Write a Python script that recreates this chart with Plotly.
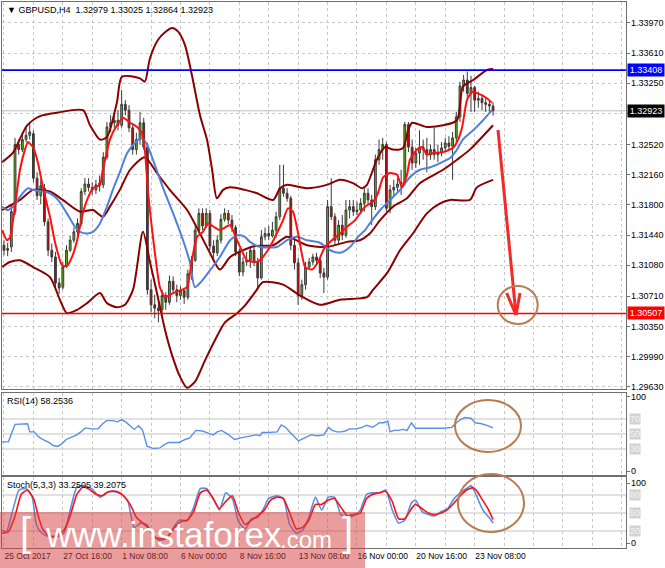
import plotly.graph_objects as go

# ---------------- data ----------------
symbol = "GBPUSD,H4"
bars = list(range(134))  # H4 bars, bar 0 = 25 Oct 2017 00:00

opens = [1.3132,1.3126,1.3130,1.3172,1.3252,1.3246,1.3258,1.3263,1.3265,1.3212,
         1.3191,1.3200,1.3160,1.3126,1.3118,1.3087,1.3082,1.3108,1.3126,1.3138,
         1.3148,1.3158,1.3196,1.3205,1.3201,1.3198,1.3203,1.3204,1.3237,1.3273,
         1.3278,1.3281,1.3275,1.3300,1.3293,1.3272,1.3246,1.3258,1.3278,1.3249,
         1.3079,1.3061,1.3057,1.3055,1.3072,1.3064,1.3089,1.3079,1.3072,1.3078,
         1.3070,1.3098,1.3114,1.3150,1.3170,1.3155,1.3170,1.3131,1.3123,1.3138,
         1.3163,1.3170,1.3162,1.3153,1.3124,1.3100,1.3112,1.3114,1.3126,1.3112,
         1.3093,1.3142,1.3146,1.3143,1.3150,1.3166,1.3200,1.3194,1.3188,1.3132,
         1.3111,1.3072,1.3085,1.3106,1.3112,1.3118,1.3114,1.3099,1.3094,1.3178,
         1.3166,1.3138,1.3156,1.3144,1.3174,1.3178,1.3172,1.3174,1.3182,1.3194,
         1.3186,1.3178,1.3234,1.3246,1.3252,1.3176,1.3198,1.3201,1.3205,1.3207,
         1.3276,1.3249,1.3230,1.3242,1.3249,1.3246,1.3240,1.3246,1.3240,1.3242,
         1.3248,1.3254,1.3250,1.3260,1.3285,1.3322,1.3329,1.3313,1.3320,1.3305,
         1.3307,1.3302,1.3300,1.32979]
highs = [1.3138,1.3135,1.3180,1.3260,1.3258,1.3267,1.3272,1.3279,1.3269,1.3219,
         1.3210,1.3205,1.3164,1.3134,1.3124,1.3093,1.3112,1.3132,1.3143,1.3153,
         1.3164,1.3200,1.3212,1.3212,1.3207,1.3210,1.3215,1.3243,1.3279,1.3287,
         1.3291,1.3293,1.3317,1.3305,1.3299,1.3275,1.3266,1.3291,1.3284,1.3254,
         1.3091,1.3073,1.3067,1.3079,1.3076,1.3096,1.3095,1.3085,1.3083,1.3079,
         1.3103,1.3119,1.3155,1.3176,1.3176,1.3176,1.3174,1.3138,1.3144,1.3169,
         1.3176,1.3174,1.3168,1.3156,1.3128,1.3118,1.3124,1.3131,1.3131,1.3117,
         1.3150,1.3153,1.3155,1.3160,1.3172,1.3228,1.3228,1.3200,1.3191,1.3141,
         1.3117,1.3091,1.3112,1.3117,1.3122,1.3123,1.3117,1.3105,1.3186,1.3212,
         1.3170,1.3162,1.3168,1.3186,1.3186,1.3186,1.3184,1.3188,1.3200,1.3200,
         1.3192,1.3240,1.3258,1.3260,1.3255,1.3204,1.3210,1.3212,1.3222,1.3279,
         1.3279,1.3258,1.3248,1.3269,1.3258,1.3260,1.3252,1.3272,1.3252,1.3255,
         1.3260,1.3262,1.3267,1.3291,1.3327,1.3335,1.3339,1.3334,1.3322,1.3315,
         1.3312,1.3309,1.3305,1.33025]
lows = [1.3120,1.3119,1.3124,1.3168,1.3240,1.3243,1.3255,1.3258,1.3207,1.3186,
        1.3181,1.3155,1.3119,1.3112,1.3081,1.3074,1.3079,1.3105,1.3124,1.3135,
        1.3144,1.3155,1.3192,1.3196,1.3192,1.3193,1.3196,1.3200,1.3234,1.3267,
        1.3272,1.3269,1.3272,1.3287,1.3267,1.3240,1.3240,1.3252,1.3246,1.3073,
        1.3052,1.3045,1.3040,1.3045,1.3055,1.3061,1.3074,1.3064,1.3067,1.3062,
        1.3067,1.3091,1.3112,1.3148,1.3150,1.3153,1.3126,1.3117,1.3119,1.3134,
        1.3160,1.3157,1.3148,1.3119,1.3095,1.3095,1.3107,1.3105,1.3107,1.3079,
        1.3091,1.3138,1.3138,1.3141,1.3141,1.3162,1.3190,1.3184,1.3126,1.3103,
        1.3061,1.3067,1.3079,1.3103,1.3108,1.3108,1.3093,1.3075,1.3091,1.3162,
        1.3132,1.3132,1.3138,1.3141,1.3164,1.3167,1.3168,1.3169,1.3172,1.3180,
        1.3156,1.3174,1.3228,1.3234,1.3172,1.3170,1.3190,1.3196,1.3192,1.3204,
        1.3243,1.3222,1.3224,1.3228,1.3234,1.3219,1.3234,1.3234,1.3231,1.3238,
        1.3243,1.3246,1.3210,1.3255,1.3279,1.3315,1.3307,1.3291,1.3291,1.3296,
        1.3293,1.3291,1.3291,1.32864]
closes = [1.3126,1.3128,1.3172,1.3252,1.3246,1.3258,1.3263,1.3267,1.3212,1.3191,
          1.3203,1.3160,1.3126,1.3118,1.3087,1.3081,1.3106,1.3126,1.3138,1.3148,
          1.3158,1.3196,1.3205,1.3201,1.3198,1.3204,1.3206,1.3237,1.3273,1.3278,
          1.3281,1.3275,1.3300,1.3293,1.3272,1.3246,1.3258,1.3278,1.3249,1.3079,
          1.3061,1.3057,1.3054,1.3072,1.3064,1.3089,1.3079,1.3072,1.3078,1.3070,
          1.3098,1.3114,1.3150,1.3170,1.3155,1.3170,1.3131,1.3123,1.3138,1.3163,
          1.3170,1.3162,1.3153,1.3124,1.3100,1.3112,1.3114,1.3126,1.3112,1.3093,
          1.3142,1.3146,1.3143,1.3150,1.3166,1.3200,1.3194,1.3188,1.3132,1.3111,
          1.3072,1.3085,1.3106,1.3112,1.3118,1.3114,1.3099,1.3094,1.3178,1.3166,
          1.3138,1.3156,1.3144,1.3174,1.3178,1.3172,1.3174,1.3182,1.3194,1.3186,
          1.3178,1.3234,1.3246,1.3252,1.3176,1.3198,1.3201,1.3205,1.3207,1.3276,
          1.3249,1.3230,1.3242,1.3249,1.3246,1.3240,1.3246,1.3240,1.3242,1.3248,
          1.3254,1.3250,1.3260,1.3285,1.3322,1.3329,1.3313,1.3320,1.3305,1.3307,
          1.3302,1.3300,1.3298,1.32923]

# Bollinger bands (upper / middle / lower), sampled along the curves
bbu_bar = [-0.5,2.4,6.3,9.8,14.4,21.5,23.4,26.1,28.0,30.7,32.1,37.0,38.3,39.7,41.9,43.8,45.7,47.3,49.2,51.1,
           53.3,55.2,56.6,57.9,59.6,61.5,65.5,68.8,73.2,75.1,77.0,82.4,87.8,91.4,94.9,97.4,98.7,101.4,103.6,105.8,
           108.5,109.9,111.0,115.0,119.4,123.2,124.8,127.6,131.4,133.0]
bbu = [1.3231,1.3242,1.3275,1.3286,1.3290,1.3293,1.3275,1.3258,1.3261,1.3302,1.3333,1.3331,1.3327,1.3355,1.3377,
       1.3386,1.3391,1.3387,1.3371,1.3335,1.3287,1.3258,1.3222,1.3188,1.3198,1.3201,1.3198,1.3194,1.3186,1.3200,
       1.3204,1.3200,1.3204,1.3210,1.3206,1.3200,1.3204,1.3234,1.3249,1.3246,1.3248,1.3269,1.3278,1.3273,1.3275,
       1.3281,1.3321,1.3329,1.3341,1.3342]
bbm_bar = [-0.5,4.35,7.9,12.5,16.0,20.7,24.2,26.9,28.8,31.5,34.3,38.3,41.6,45.1,49.8,52.8,56.0,58.7,61.5,65.0,
           68.3,73.2,77.0,82.4,87.8,93.3,96.8,99.5,102.3,105.8,109.6,113.1,119.4,123.2,126.7,133.0]
bbm = [1.3174,1.3186,1.3198,1.3196,1.3186,1.3172,1.3174,1.3166,1.3178,1.3198,1.3222,1.3237,1.3218,1.3198,1.3174,
       1.3150,1.3123,1.3103,1.3118,1.3126,1.3131,1.3132,1.3142,1.3132,1.3130,1.3136,1.3138,1.3146,1.3162,1.3178,
       1.3188,1.3206,1.3222,1.3234,1.3246,1.3275]
bbl_bar = [-0.5,1.6,4.35,7.9,12.5,15.2,17.1,19.9,22.6,26.1,28.0,30.7,32.9,35.1,37.8,39.7,41.6,43.8,45.7,47.9,
           49.8,51.9,54.7,57.4,60.1,63.4,65.5,68.3,70.4,75.9,80.5,85.9,91.4,98.7,100.4,104.2,107.7,111.2,115.0,118.6,
           121.3,126.7,128.6,133.0]
bbl = [1.3106,1.3112,1.3114,1.3106,1.3094,1.3067,1.3051,1.3055,1.3063,1.3075,1.3063,1.3058,1.3061,1.3079,1.3148,
       1.3112,1.3075,1.3031,1.3001,1.2975,1.2962,1.2969,1.2995,1.3019,1.3040,1.3051,1.3060,1.3076,1.3088,1.3085,
       1.3072,1.3061,1.3067,1.3070,1.3079,1.3099,1.3126,1.3146,1.3170,1.3182,1.3186,1.3186,1.3201,1.3210]

# fast (red) and slow (blue) moving averages
ma_fast_bar = [-0.5,0.8,1.6,3.0,4.35,5.7,6.5,7.9,9.25,10.6,12.5,13.9,15.8,17.1,18.5,19.9,21.2,22.6,24.2,26.1,
               26.9,28.8,30.7,32.4,34.3,36.2,37.5,38.3,39.2,40.5,42.4,43.8,46.0,48.4,49.8,51.1,52.5,54.1,55.5,57.4,
               58.7,61.5,62.8,64.2,66.1,68.8,70.4,72.3,74.2,75.9,77.2,78.6,80.0,81.9,83.8,85.4,87.3,89.2,91.4,93.3,
               95.5,98.2,100.4,101.7,103.1,105.0,106.9,108.2,109.6,110.4,112.3,113.7,115.0,116.7,119.4,122.1,123.5,124.6,125.9,127.3,
               128.9,131.4,132.7]
ma_fast = [1.3150,1.3138,1.3141,1.3178,1.3222,1.3246,1.3255,1.3249,1.3230,1.3201,1.3166,1.3135,1.3108,1.3107,1.3118,
           1.3138,1.3166,1.3186,1.3200,1.3204,1.3222,1.3258,1.3275,1.3284,1.3278,1.3273,1.3266,1.3246,1.3194,1.3142,
           1.3082,1.3070,1.3075,1.3079,1.3082,1.3114,1.3142,1.3148,1.3158,1.3153,1.3150,1.3156,1.3144,1.3130,1.3114,
           1.3112,1.3118,1.3130,1.3146,1.3162,1.3176,1.3172,1.3146,1.3106,1.3103,1.3112,1.3130,1.3138,1.3146,1.3154,
           1.3162,1.3178,1.3184,1.3194,1.3213,1.3218,1.3216,1.3201,1.3216,1.3234,1.3246,1.3249,1.3240,1.3242,1.3243,
           1.3248,1.3258,1.3273,1.3305,1.3315,1.3313,1.3307,1.3302]
ma_slow_bar = [-0.5,0.8,2.45,4.35,6.5,7.9,10.6,12.5,14.7,17.1,19.3,20.7,22.6,24.2,26.1,28.0,29.6,31.5,33.5,35.6,
               37.5,38.9,40.5,43.2,46.0,48.7,50.6,51.9,53.3,55.5,58.7,61.5,63.6,65.5,66.9,69.6,74.2,77.0,79.7,82.4,
               85.9,88.7,91.4,94.1,96.3,98.2,99.5,102.3,105.0,107.7,110.4,113.1,115.9,118.6,121.3,123.2,124.8,127.6,130.3,132.7]
ma_slow = [1.3178,1.3174,1.3178,1.3190,1.3200,1.3198,1.3196,1.3194,1.3186,1.3170,1.3154,1.3148,1.3146,1.3148,1.3158,
           1.3178,1.3198,1.3219,1.3242,1.3254,1.3260,1.3252,1.3234,1.3201,1.3170,1.3138,1.3111,1.3082,1.3087,1.3099,
           1.3118,1.3138,1.3144,1.3142,1.3136,1.3130,1.3130,1.3138,1.3142,1.3138,1.3135,1.3126,1.3123,1.3130,1.3142,
           1.3150,1.3158,1.3174,1.3186,1.3198,1.3213,1.3222,1.3225,1.3230,1.3236,1.3246,1.3258,1.3269,1.3281,1.3293]

# RSI(14)
rsi_last = 58.2536
rsi_bar = [-0.5,1.2,3.0,4.7,6.4,7.0,8.2,9.3,10.5,12.2,13.4,14.6,15.7,16.9,18.6,19.8,20.9,22.1,23.8,25.6,
           26.7,27.9,29.6,30.8,32.0,33.1,34.3,35.4,36.6,37.7,38.9,40.7,42.4,43.5,44.7,47.6,49.3,50.5,52.2,54.0,
           55.7,56.9,58.0,59.2,60.9,62.7,64.4,66.2,68.5,69.6,70.2,71.9,74.3,75.4,76.6,77.7,78.9,80.1,81.2,82.4,
           83.5,85.3,87.0,88.2,89.3,90.5,91.7,92.8,94.0,95.7,97.4,98.6,100.3,102.1,103.2,104.4,105.0,106.1,107.3,108.5,
           109.6,110.8,111.9,113.7,116.0,117.7,119.5,121.8,123.0,124.1,125.3,127.0,128.2,129.9,131.7,133.0]
rsi_val = [39.5,39.5,62.9,62.9,63.7,52.8,52.8,46.8,42.7,38.7,34.6,33.4,36.7,42.7,46.0,48.8,52.8,58.1,56.9,56.9,
           63.0,67.8,67.8,66.2,69.0,66.2,60.9,56.1,60.9,54.8,33.8,30.6,31.4,35.5,38.7,38.7,42.7,44.8,54.8,54.0,
           50.8,48.8,52.8,54.8,49.6,42.7,44.8,46.8,48.8,47.6,52.0,52.0,52.8,62.1,58.9,52.8,46.8,40.7,43.5,46.8,
           48.8,47.6,48.8,58.9,54.8,52.8,52.8,54.0,56.9,56.9,58.9,61.7,58.9,65.0,65.0,67.0,52.8,54.8,54.8,56.1,
           54.8,65.0,57.7,57.7,58.1,57.7,57.7,58.9,65.0,69.0,71.9,71.1,65.0,63.7,60.9,rsi_last]

# Stochastic(5,3,3): main (blue) and signal (red)
stoch_main_last = 33.2505
stoch_signal_last = 39.2075
stoch_k_bar = [-0.5,0.65,2.4,4.1,5.9,7.6,8.8,9.9,11.7,14.0,16.3,18.0,19.8,21.5,23.8,26.1,27.9,29.6,32.0,33.7,
               35.4,37.2,38.9,40.6,42.4,44.1,45.9,47.6,49.9,51.6,53.4,55.1,56.9,58.6,60.3,62.1,63.8,65.6,67.3,69.0,
               70.8,71.9,74.3,76.0,77.7,79.5,81.2,82.9,84.7,86.4,88.2,89.9,91.6,93.4,95.1,96.9,98.6,100.3,102.1,103.8,
               105.6,107.3,109.0,110.8,111.9,113.7,115.4,117.1,118.9,120.6,122.4,124.1,125.8,127.0,128.2,129.3,130.5,132.2,133.0]
stoch_k = [21.2,18.8,54.8,88.4,90.8,78.8,30.8,18.8,11.6,9.2,16.4,54.8,93.2,95.6,90.8,76.4,83.6,86.0,81.2,69.2,
           26.0,33.2,30.8,11.6,4.4,6.8,23.6,38.0,38.0,59.6,90.8,90.8,74.0,54.8,83.6,74.0,35.6,23.6,40.4,42.8,
           59.6,74.0,78.8,74.0,30.8,16.4,21.2,42.8,76.4,54.8,76.4,76.4,47.6,42.8,45.2,54.8,81.2,83.6,83.6,88.4,
           54.8,33.2,38.0,66.8,71.6,52.4,47.6,45.2,52.4,57.2,74.0,83.6,90.8,95.6,83.6,66.8,52.4,40.4,stoch_main_last]
stoch_d_bar = [-0.5,1.2,3.0,4.7,6.4,8.2,9.3,10.5,12.2,14.0,16.3,18.0,19.8,21.5,23.2,25.0,26.7,28.5,30.8,32.5,
               34.3,36.0,37.7,39.5,41.2,43.0,44.7,46.4,48.2,49.9,51.6,53.4,55.1,56.9,58.6,60.3,62.1,63.8,65.6,67.3,
               69.0,70.8,72.5,74.3,76.0,77.7,79.5,81.2,82.9,84.7,86.4,88.2,89.9,91.6,93.4,95.1,96.9,98.6,100.3,102.1,
               103.8,105.6,107.3,109.0,110.8,111.9,113.7,115.4,117.1,118.9,120.6,122.4,124.1,125.8,127.6,128.7,129.9,131.6,133.0]
stoch_d = [16.4,18.8,45.2,81.2,88.4,71.6,45.2,23.6,11.6,11.6,21.2,45.2,81.2,93.2,89.4,81.2,78.8,86.0,86.0,78.8,
           64.4,42.8,33.2,23.6,9.2,6.8,11.6,26.0,35.6,38.0,52.4,83.6,88.4,74.0,57.2,69.2,78.8,50.0,30.8,38.0,
           45.2,54.8,71.6,76.4,74.0,50.0,23.6,26.0,38.0,64.4,64.4,71.6,74.0,59.6,45.2,47.6,50.0,74.0,81.2,83.6,
           86.0,69.2,40.4,40.4,57.2,64.4,57.2,50.0,47.6,50.0,55.8,66.8,78.8,88.4,92.2,86.0,74.0,57.2,stoch_signal_last]

date_ticks = [0, 16, 32, 48, 64, 80, 96, 112, 128]
date_labels = ["25 Oct 2017", "27 Oct 16:00", "1 Nov 08:00", "6 Nov 00:00", "8 Nov 16:00",
               "13 Nov 08:00", "16 Nov 00:00", "20 Nov 16:00", "23 Nov 08:00"]
price_ticks = [1.29630, 1.29990, 1.30350, 1.30710, 1.31080, 1.31440, 1.31800, 1.32160,
               1.32520, 1.32885, 1.33250, 1.33610, 1.33970]
price_labels = ["1.29630", "1.29990", "1.30350", "1.30710", "1.31080", "1.31440", "1.31800", "1.32160",
                "1.32520", "", "1.33250", "1.33610", "1.33970"]
resistance = 1.33408
support = 1.30507
rsi_levels = [70, 50, 30]
stoch_levels = [80, 50, 20]

# ---------------- layout geometry ----------------
W, H = 665, 568
ML, MR, MT, MB = 2, 39, 2, 20
PW, PH = W - ML - MR, H - MT - MB
FONT = "Liberation Sans, Arial, sans-serif"


def xp(px):
    return (px - ML) / PW


def yp(py):
    return (H - MB - py) / PH


XR = [-0.54, 169.16]
GRID = "#c8c8c8"
AX = "#707070"

fig = go.Figure()

fig.add_trace(go.Candlestick(
    x=bars, open=opens, high=highs, low=lows, close=closes,
    increasing=dict(fillcolor="#5cb800", line=dict(color="#3a3a3a", width=1)),
    decreasing=dict(fillcolor="#d00000", line=dict(color="#3a3a3a", width=1)),
    whiskerwidth=0, showlegend=False, hoverinfo="skip", xaxis="x", yaxis="y"))

for bx, by in [(bbu_bar, bbu), (bbm_bar, bbm), (bbl_bar, bbl)]:
    fig.add_trace(go.Scatter(x=bx, y=by, mode="lines", xaxis="x", yaxis="y", showlegend=False,
                             line=dict(color="#8b0000", width=2, shape="spline", smoothing=0.7)))
fig.add_trace(go.Scatter(x=ma_slow_bar, y=ma_slow, mode="lines", xaxis="x", yaxis="y", showlegend=False,
                         line=dict(color="#4f80dc", width=2, shape="spline", smoothing=0.7)))
fig.add_trace(go.Scatter(x=ma_fast_bar, y=ma_fast, mode="lines", xaxis="x", yaxis="y", showlegend=False,
                         line=dict(color="#ff1010", width=2, shape="spline", smoothing=0.5)))

fig.add_trace(go.Scatter(x=rsi_bar, y=rsi_val, mode="lines", xaxis="x2", yaxis="y2", showlegend=False,
                         line=dict(color="#5a8fe6", width=1.4)))
fig.add_trace(go.Scatter(x=stoch_k_bar, y=stoch_k, mode="lines", xaxis="x3", yaxis="y3", showlegend=False,
                         line=dict(color="#5a8fe6", width=1.6, shape="spline", smoothing=0.5)))
fig.add_trace(go.Scatter(x=stoch_d_bar, y=stoch_d, mode="lines", xaxis="x3", yaxis="y3", showlegend=False,
                         line=dict(color="#ff1010", width=1.6, shape="spline", smoothing=0.5)))

xcommon = dict(range=XR, showgrid=True, gridcolor=GRID, griddash="3px,3px", gridwidth=1,
               tick0=0, dtick=8, showticklabels=False, ticks="", zeroline=False,
               showline=True, mirror=True, linecolor=AX, linewidth=1)
ycommon = dict(side="right", zeroline=False, showline=True, mirror=True, linecolor=AX, linewidth=1,
               ticks="outside", ticklen=3, tickcolor=AX, showticklabels=False)

fig.update_layout(
    width=W, height=H, margin=dict(l=ML, r=MR, t=MT, b=MB, autoexpand=False),
    paper_bgcolor="white", plot_bgcolor="white", showlegend=False,
    font=dict(family=FONT, size=9, color="black"),
    xaxis=dict(**xcommon, anchor="y", rangeslider=dict(visible=False)),
    xaxis2=dict(**xcommon, anchor="y2"),
    xaxis3=dict(range=XR, anchor="y3", tickmode="array", tickvals=date_ticks, ticktext=date_labels,
                showticklabels=True, ticklabelposition="outside right", ticks="", tickangle=0,
                tickfont=dict(size=8.5, color="black", family=FONT),
                showgrid=True, gridcolor=GRID, griddash="3px,3px", zeroline=False,
                minor=dict(tick0=0, dtick=8, showgrid=True, gridcolor=GRID, griddash="3px,3px"),
                showline=True, mirror=True, linecolor=AX, linewidth=1),
    yaxis=dict(**ycommon, anchor="x", domain=[yp(389), 1.0], range=[1.29606, 1.34220],
               tickmode="array", tickvals=price_ticks,
               showgrid=True, gridcolor=GRID, griddash="3px,3px"),
    yaxis2=dict(**ycommon, anchor="x2", domain=[yp(475), yp(393)], range=[-4.7, 104.7],
                tickmode="array", tickvals=[0, 100], showgrid=False),
    yaxis3=dict(**ycommon, anchor="x3", domain=[0.0, yp(477)], range=[-8.3, 110],
                tickmode="array", tickvals=[0, 100], showgrid=False),
)

shapes = []
for lv in rsi_levels:
    shapes.append(dict(type="line", xref="x2 domain", x0=0, x1=1, yref="y2", y0=lv, y1=lv,
                       line=dict(color="#c4c4c4", width=1), layer="below"))
for lv in stoch_levels:
    shapes.append(dict(type="line", xref="x3 domain", x0=0, x1=1, yref="y3", y0=lv, y1=lv,
                       line=dict(color="#c4c4c4", width=1), layer="below"))
shapes.append(dict(type="line", xref="x domain", x0=0, x1=1, yref="y", y0=closes[-1], y1=closes[-1],
                   line=dict(color="#bdbdbd", width=1), layer="below"))
shapes.append(dict(type="line", xref="x domain", x0=0, x1=1, yref="y", y0=resistance, y1=resistance,
                   line=dict(color="#0000ff", width=1.6)))
shapes.append(dict(type="line", xref="x domain", x0=0, x1=1, yref="y", y0=support, y1=support,
                   line=dict(color="#ff0000", width=1.6)))
ARC = "#f42a2a"
for (a, b, c, d) in [(498, 130, 516, 315), (506.7, 293, 516, 315), (520, 293, 516, 315)]:
    shapes.append(dict(type="line", xref="paper", yref="paper", x0=xp(a), y0=yp(b), x1=xp(c), y1=yp(d),
                       line=dict(color=ARC, width=3), layer="above"))
CC = "#b97b4f"
for (a, b, c, d) in [(497.7, 286, 537.7, 324), (455, 400, 521, 452), (458, 474, 524, 532)]:
    shapes.append(dict(type="circle", xref="paper", yref="paper", x0=xp(a), x1=xp(c), y0=yp(d), y1=yp(b),
                       line=dict(color=CC, width=2), layer="above"))
shapes.append(dict(type="rect", xref="paper", yref="paper", x0=xp(0), x1=xp(365), y0=yp(568), y1=yp(512),
                   fillcolor="rgba(214,60,60,0.5)", line=dict(width=0), layer="above"))

ann = []
TXT = dict(showarrow=False, font=dict(size=9, color="black", family=FONT))
ann.append(dict(**TXT, xref="paper", yref="paper", x=xp(5), y=yp(10), xanchor="left", yanchor="middle",
                text=f"\u25BC {symbol}\u00a0 {opens[-1]:.5f} {highs[-1]:.5f} {lows[-1]:.5f} {closes[-1]:.5f}"))
ann.append(dict(**TXT, xref="paper", yref="paper", x=xp(5), y=yp(401), xanchor="left", yanchor="middle",
                text=f"RSI(14) {rsi_last:.4f}"))
ann.append(dict(**TXT, xref="paper", yref="paper", x=xp(5), y=yp(485), xanchor="left", yanchor="middle",
                text=f"Stoch(5,3,3) {stoch_main_last:.4f} {stoch_signal_last:.4f}"))
for v, t in zip(price_ticks, price_labels):
    if t:
        ann.append(dict(**TXT, xref="paper", yref="y", x=1, y=v, xanchor="left", yanchor="middle",
                        xshift=3, text=t))
for ax_ref in ["y2", "y3"]:
    for v in [0, 100]:
        ann.append(dict(**TXT, xref="paper", yref=ax_ref, x=1, y=v, xanchor="left", yanchor="middle",
                        xshift=3, text=str(v)))
for lv in rsi_levels:
    ann.append(dict(xref="paper", yref="y2", x=1, y=lv, xanchor="left", yanchor="middle", xshift=3,
                    showarrow=False, text=str(lv), bgcolor="#d2d2d2", borderpad=0,
                    font=dict(size=9, color="#f6f6f6", family=FONT)))
for lv in stoch_levels:
    ann.append(dict(xref="paper", yref="y3", x=1, y=lv, xanchor="left", yanchor="middle", xshift=3,
                    showarrow=False, text=str(lv), bgcolor="#d2d2d2", borderpad=0,
                    font=dict(size=9, color="#f6f6f6", family=FONT)))
for val, bg in [(resistance, "#0000ff"), (closes[-1], "#000000"), (support, "#ff0000")]:
    ann.append(dict(xref="paper", yref="y", x=1, y=val, xanchor="left", yanchor="middle", xshift=1,
                    showarrow=False, text=f"{val:.5f}", bgcolor=bg, borderpad=1, width=34, align="center",
                    font=dict(size=9, color="white", family=FONT)))
WM = dict(xref="paper", yref="paper", showarrow=False, xanchor="left", yanchor="middle")
ann.append(dict(**WM, x=xp(18), y=yp(532), text="[", font=dict(size=40, color="white", family=FONT)))
ann.append(dict(**WM, x=xp(43), y=yp(534), text="www.instaforex", font=dict(size=35, color="white", family=FONT)))
ann.append(dict(**WM, x=xp(278), y=yp(539), text=".com", font=dict(size=24, color="white", family=FONT)))
ann.append(dict(**WM, x=xp(340), y=yp(532), text="]", font=dict(size=40, color="white", family=FONT)))

fig.update_layout(shapes=shapes, annotations=ann)
fig.write_html("out.html", config={"displayModeBar": False},
               post_script="document.body.style.margin='0px';")
